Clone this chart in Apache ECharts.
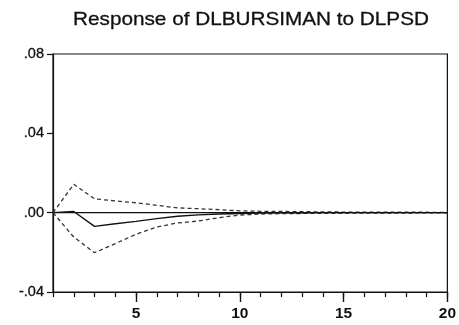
<!DOCTYPE html>
<html>
<head>
<meta charset="utf-8">
<script src="https://cdn.jsdelivr.net/npm/echarts@6/dist/echarts.min.js"></script>
<style>
  html, body { margin: 0; padding: 0; background: #fff; }
  #chart { width: 459px; height: 325px; }
</style>
</head>
<body>
<div id="chart"></div>
<script>
// Impulse response of DLBURSIMAN to a shock in DLPSD, with ±2 S.E. bands
const chartTitle = 'Response of DLBURSIMAN to DLPSD';
const periods = [1,2,3,4,5,6,7,8,9,10,11,12,13,14,15,16,17,18,19,20];
const response = [0.0000, 0.0006, -0.0069, -0.0056, -0.0044, -0.0030, -0.0018, -0.0011, -0.0007, -0.0004,
                  -0.0002, -0.0001, -0.0001, 0.0000, 0.0000, 0.0000, 0.0000, 0.0000, 0.0000, 0.0000];
const upperBand = [0.0000, 0.0143, 0.0070, 0.0059, 0.0050, 0.0037, 0.0024, 0.0020, 0.0015, 0.0009,
                   0.0007, 0.0006, 0.0005, 0.0004, 0.0003, 0.0003, 0.0002, 0.0002, 0.0002, 0.0001];
const lowerBand = [0.0000, -0.0123, -0.0202, -0.0156, -0.0109, -0.0072, -0.0052, -0.0042, -0.0025, -0.0012,
                   -0.0007, -0.0005, -0.0004, -0.0003, -0.0003, -0.0002, -0.0002, -0.0002, -0.0001, -0.0001];
const xLabelValues = [5, 10, 15, 20];

const pairs = arr => periods.map((p, i) => [p, arr[i]]);
const fmtY = v => {
  const s = Math.abs(v).toFixed(2).replace(/^0/, '');
  return (v < -1e-9 ? '-' : '') + s;
};
const FONT = 'Liberation Sans, Arial, sans-serif';

const chart = echarts.init(document.getElementById('chart'), null, { renderer: 'canvas' });
chart.setOption({
  animation: false,
  backgroundColor: '#ffffff',
  graphic: [{
    type: 'text', x: 251, y: 20, scaleX: 1.12, silent: true,
    style: { text: chartTitle, fontFamily: FONT, fontSize: 18.5, fill: '#111',
             align: 'center', verticalAlign: 'middle', stroke: '#111', lineWidth: 0.3 }
  }],
  grid: { left: 53, right: 10, top: 54, bottom: 33, show: true, borderColor: '#111', borderWidth: 1.2, backgroundColor: '#fff' },
  xAxis: [
    {
      type: 'value', min: 1, max: 20, interval: 1,
      axisLine: { show: true, onZero: false, lineStyle: { color: '#111', width: 1.2 } },
      axisTick: { show: true, length: 5, lineStyle: { color: '#111', width: 1.2 } },
      axisLabel: { show: false },
      splitLine: { show: false }
    },
    {
      type: 'value', min: 1, max: 20, position: 'bottom',
      axisLine: { show: false, onZero: false },
      axisTick: { show: true, length: 10, customValues: xLabelValues, lineStyle: { color: '#111', width: 1.4 } },
      axisLabel: { show: true, customValues: xLabelValues, margin: 14, color: '#111', fontSize: 15.5, fontWeight: 'bold',
                   fontFamily: FONT },
      splitLine: { show: false }
    }
  ],
  yAxis: {
    type: 'value', min: -0.04, max: 0.08, interval: 0.04,
    axisLine: { show: true, onZero: false, lineStyle: { color: '#111', width: 1.2 } },
    axisTick: { show: true, length: 6, lineStyle: { color: '#111', width: 1.2 } },
    axisLabel: { formatter: fmtY, margin: 9, color: '#111', fontSize: 14.5, fontFamily: FONT,
                 textBorderColor: '#111', textBorderWidth: 0.3 },
    splitLine: { show: false }
  },
  series: [
    {
      name: 'zero', type: 'line', data: pairs(periods.map(() => 0)), symbol: 'none', silent: true,
      lineStyle: { color: '#111', width: 1.2 }
    },
    {
      name: 'upper', type: 'line', data: pairs(upperBand), symbol: 'none',
      lineStyle: { color: '#333', width: 1.3, type: [4, 3] }
    },
    {
      name: 'lower', type: 'line', data: pairs(lowerBand), symbol: 'none',
      lineStyle: { color: '#333', width: 1.3, type: [4, 3] }
    },
    {
      name: 'response', type: 'line', data: pairs(response), symbol: 'none',
      lineStyle: { color: '#111', width: 1.4 }
    }
  ]
});
</script>
</body>
</html>
